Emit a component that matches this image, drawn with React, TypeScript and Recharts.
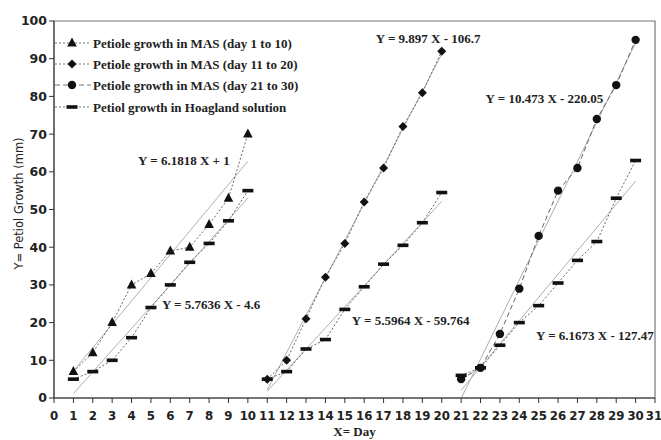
import { LineChart, Line, XAxis, YAxis, ReferenceArea, ReferenceDot } from 'recharts';

// days for the three growth periods
const DAYS_A = [1, 2, 3, 4, 5, 6, 7, 8, 9, 10];
const DAYS_B = [11, 12, 13, 14, 15, 16, 17, 18, 19, 20];
const DAYS_C = [21, 22, 23, 24, 25, 26, 27, 28, 29, 30];

// petiole growth (mm)
const MAS_A = [7, 12, 20, 30, 33, 39, 40, 46, 53, 70];
const MAS_B = [5, 10, 21, 32, 41, 52, 61, 72, 81, 92];
const MAS_C = [5, 8, 17, 29, 43, 55, 61, 74, 83, 95];
const HOAG_A = [5, 7, 10, 16, 24, 30, 36, 41, 47, 55];
const HOAG_B = [5, 7, 13, 15.5, 23.5, 29.5, 35.5, 40.5, 46.5, 54.5];
const HOAG_C = [6, 8, 14, 20, 24.5, 30.5, 36.5, 41.5, 53, 63];

// linear trendlines as printed on the chart
const TREND_NAMES = ['masA', 'masB', 'masC', 'hoagA', 'hoagB', 'hoagC'];
const TREND_SLOPE = [6.1818, 9.897, 10.473, 5.7636, 5.5964, 6.1673];
const TREND_INTERCEPT = [1, -106.7, -220.05, -4.6, -59.764, -127.47];
const TREND_FROM = [1, 11, 21, 1, 11, 21];
const TREND_TO = [10, 20, 30, 10, 20, 30];
const TREND_LABELS = [
  'Y = 6.1818 X + 1',
  'Y = 9.897 X - 106.7',
  'Y = 10.473 X - 220.05',
  'Y = 5.7636 X - 4.6',
  'Y = 5.5964 X - 59.764',
  'Y = 6.1673 X - 127.47',
];
// where each equation sits (data units)
const LABEL_X = [6.7, 19.3, 25.3, 8.1, 18.4, 27.9];
const LABEL_Y = [63.1, 95.5, 79.6, 24.9, 20.7, 16.7];

const X_TICKS = Array.from({ length: 32 }, (_, i) => i);
const Y_TICKS = [0, 10, 20, 30, 40, 50, 60, 70, 80, 90, 100];

const LEGEND = [
  'Petiole growth in MAS (day 1 to 10)',
  'Petiole growth in MAS (day 11 to 20)',
  'Petiole growth in MAS (day 21 to 30)',
  'Petiol growth in Hoagland solution',
];

const toPoints = (xs: number[], ys: number[]) => xs.map((x, i) => ({ x, y: ys[i] }));

const trendPoints = (i: number) => [
  { x: TREND_FROM[i], y: TREND_SLOPE[i] * TREND_FROM[i] + TREND_INTERCEPT[i] },
  { x: TREND_TO[i], y: TREND_SLOPE[i] * TREND_TO[i] + TREND_INTERCEPT[i] },
];

const INK = '#111';
const SERIF = '"Liberation Serif", "DejaVu Serif", serif';
const SANS = '"DejaVu Sans", Verdana, sans-serif';

function triangle(cx: number, cy: number) {
  return <path d={`M${cx},${cy - 5.5} L${cx + 4.8},${cy + 3.5} L${cx - 4.8},${cy + 3.5} Z`} fill={INK} />;
}
function diamond(cx: number, cy: number) {
  return <path d={`M${cx},${cy - 4.5} L${cx + 4.5},${cy} L${cx},${cy + 4.5} L${cx - 4.5},${cy} Z`} fill={INK} />;
}
function circle(cx: number, cy: number) {
  return <circle cx={cx} cy={cy} r={4.2} fill={INK} />;
}
function dash(cx: number, cy: number) {
  return <rect x={cx - 5.5} y={cy - 1.8} width={11} height={3.6} fill={INK} />;
}

const makeDot = (shape: (cx: number, cy: number) => JSX.Element) => (props: any) => {
  const { cx, cy, index } = props;
  if (cx == null || cy == null) return <g key={index} />;
  return <g key={index}>{shape(cx, cy)}</g>;
};

const XTick = (props: any) => {
  const { x, y, payload } = props;
  const dx = payload.value === 31 ? -1 : 0;
  return (
    <text x={x + dx} y={y} dy="0.71em" textAnchor="middle" fill="#222" fontSize={11.8}
      fontFamily={SANS} fontWeight="bold">
      {payload.value}
    </text>
  );
};

const YTitle = (props: any) => {
  const vb = props.viewBox || { x: 0, y: 21, width: 54, height: 377 };
  const cx = 19;
  const cy = vb.y + vb.height / 2 - 6;
  return (
    <text x={cx} y={cy} transform={`rotate(-90 ${cx} ${cy})`} textAnchor="middle" dominantBaseline="central"
      fontFamily={SANS} fontSize={11.5} fill="#222">
      Y= Petiol Growth (mm)
    </text>
  );
};

const XTitle = (props: any) => {
  const vb = props.viewBox || { x: 54, y: 398, width: 601, height: 42 };
  return (
    <text x={vb.x + vb.width / 2} y={436} textAnchor="middle" fontFamily={SERIF} fontSize={13}
      fontWeight="bold" fill="#222">
      X= Day
    </text>
  );
};

function LegendBox() {
  const rows = [43, 64, 85, 107];
  const marks = [triangle, diamond, circle, dash];
  return (
    <svg width={661} height={440} style={{ position: 'absolute', left: 0, top: 0, pointerEvents: 'none' }}>
      {LEGEND.map((name, i) => (
        <g key={name}>
          <line x1={55} x2={91} y1={rows[i]} y2={rows[i]} stroke="#777" strokeWidth={1}
            strokeDasharray={i === 2 ? '5 3' : '2 2'} />
          {marks[i](72, rows[i])}
          <text x={93} y={rows[i]} dominantBaseline="central" fontFamily={SERIF} fontSize={13}
            fontWeight="bold" fill="#222">
            {name}
          </text>
        </g>
      ))}
    </svg>
  );
}

export default function App() {
  const tickStyle = { fill: '#222', fontSize: 12.5, fontFamily: SANS, fontWeight: 'bold' };
  const series = [
    { key: 'masA', data: toPoints(DAYS_A, MAS_A), dot: makeDot(triangle), dashArr: '2 2' },
    { key: 'masB', data: toPoints(DAYS_B, MAS_B), dot: makeDot(diamond), dashArr: '2 2' },
    { key: 'masC', data: toPoints(DAYS_C, MAS_C), dot: makeDot(circle), dashArr: '5 3' },
    { key: 'hoagA', data: toPoints(DAYS_A, HOAG_A), dot: makeDot(dash), dashArr: '2 2' },
    { key: 'hoagB', data: toPoints(DAYS_B, HOAG_B), dot: makeDot(dash), dashArr: '2 2' },
    { key: 'hoagC', data: toPoints(DAYS_C, HOAG_C), dot: makeDot(dash), dashArr: '2 2' },
  ];

  return (
    <div style={{ position: 'absolute', left: 0, top: 0, width: 661, height: 440, background: '#fff' }}>
      <LineChart width={661} height={440} margin={{ top: 21, right: 6, left: 0, bottom: 0 }}>
        <XAxis type="number" dataKey="x" domain={[0, 31]} ticks={X_TICKS} interval={0} height={42}
          allowDataOverflow tick={<XTick />} tickSize={5} tickMargin={9} stroke="#333"
          tickLine={{ stroke: '#333' }} label={<XTitle />} />
        <YAxis type="number" dataKey="y" domain={[0, 100]} ticks={Y_TICKS} interval={0} width={54}
          allowDataOverflow tick={tickStyle} tickSize={5} tickMargin={2} stroke="#333"
          tickLine={{ stroke: '#333' }} label={<YTitle />} />
        <ReferenceArea x1={0} x2={31} y1={0} y2={100} fill="none" stroke="#777" strokeWidth={1.2} />
        {TREND_NAMES.map((name, i) => (
          <Line key={'trend-' + name} data={trendPoints(i)} dataKey="y" stroke="#a9b0bd" strokeWidth={1}
            dot={false} activeDot={false} isAnimationActive={false} />
        ))}
        {series.map((s) => (
          <Line key={s.key} data={s.data} dataKey="y" stroke="#666" strokeWidth={1}
            strokeDasharray={s.dashArr} dot={s.dot} activeDot={false} isAnimationActive={false} />
        ))}
        {TREND_LABELS.map((text, i) => (
          <ReferenceDot key={text} x={LABEL_X[i]} y={LABEL_Y[i]} r={0} fill="none" stroke="none"
            label={{ value: text, position: 'center', fill: '#222', fontSize: 13, fontFamily: SERIF, fontWeight: 'bold' }} />
        ))}
      </LineChart>
      <LegendBox />
    </div>
  );
}
